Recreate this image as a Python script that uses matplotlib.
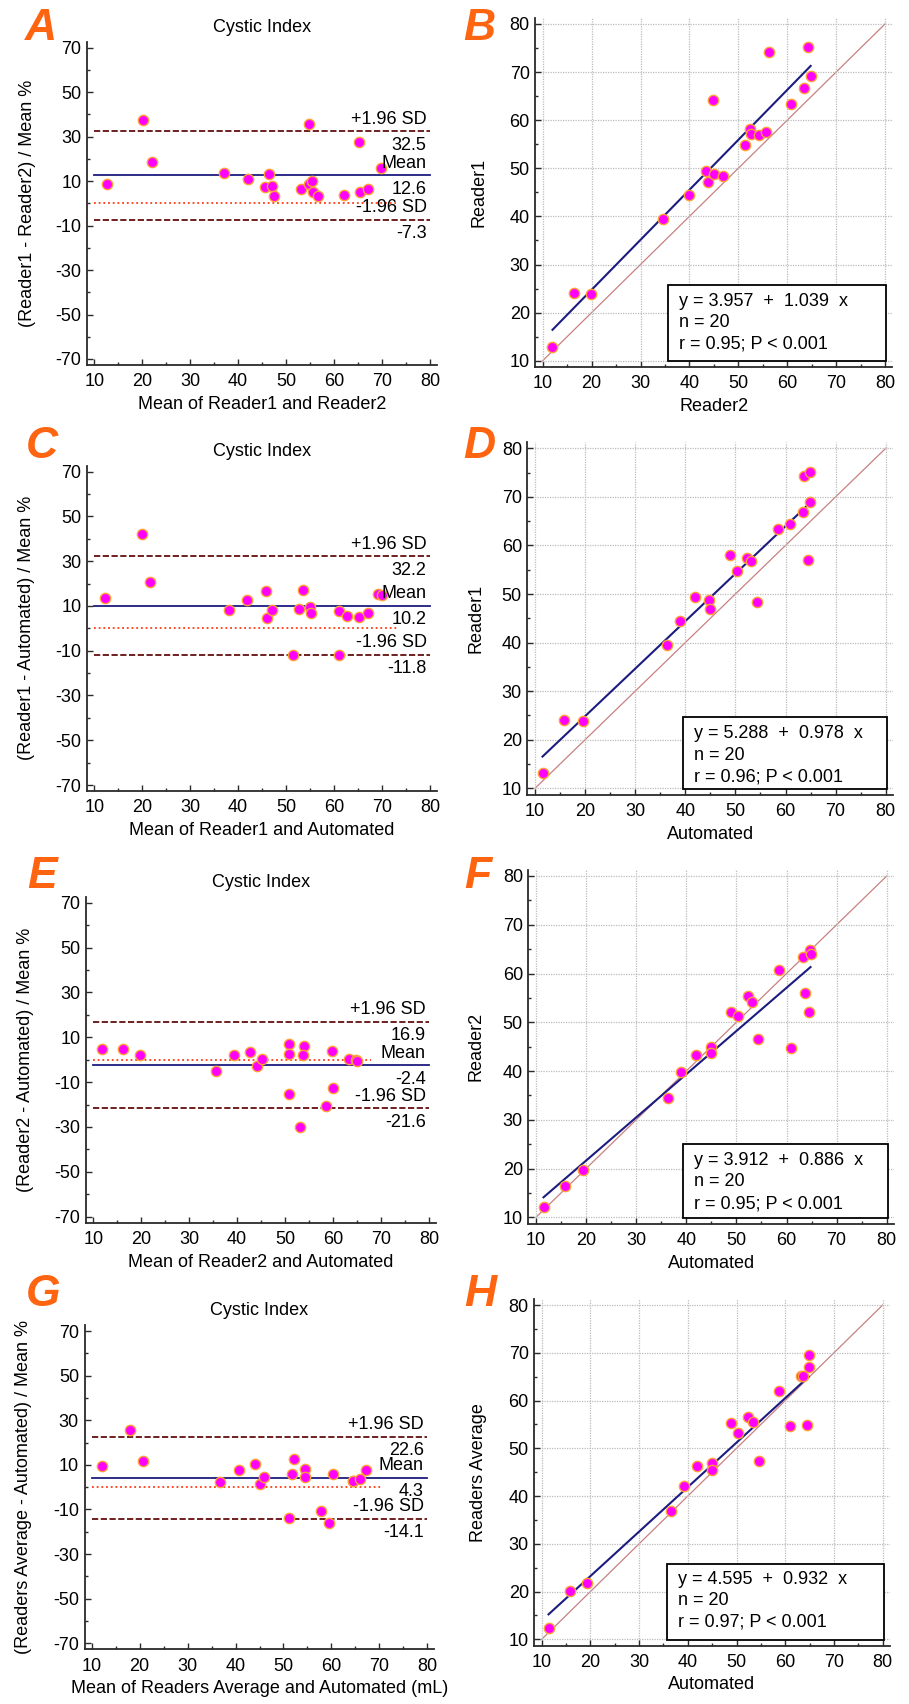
import numpy as np
import matplotlib.pyplot as plt
from matplotlib.ticker import MultipleLocator
from matplotlib.patches import Rectangle

plt.rcParams['font.family'] = 'Liberation Sans'
plt.rcParams['axes.unicode_minus'] = False

# ---- data ----
# Bland-Altman panels (x = mean of the two methods, y = difference / mean %)
A_x = [12.6, 20.2, 22.0, 37.1, 42.1, 45.6, 46.4, 47.0, 47.5, 53.1, 54.7, 54.8, 55.3, 55.7, 56.7, 62.1, 65.2, 65.3, 67.0, 69.8]
A_y = [8.7, 37.5, 18.7, 13.5, 10.8, 7.5, 13.2, 7.9, 3.3, 6.3, 35.5, 8.5, 10.2, 4.9, 3.3, 3.7, 27.7, 4.9, 6.4, 15.7]
C_x = [12.3, 19.9, 21.7, 38.0, 41.8, 45.7, 46.1, 47.0, 51.5, 52.7, 53.6, 54.9, 55.1, 61.0, 61.0, 62.7, 65.1, 67.0, 69.1, 70.0]
C_y = [13.7, 42.1, 20.6, 8.3, 12.8, 16.5, 4.8, 8.3, -11.9, 8.8, 17.3, 9.7, 6.7, 7.6, -11.9, 5.7, 5.2, 6.8, 15.3, 15.0]
E_x = [11.8, 16.1, 19.7, 35.6, 39.4, 42.6, 44.2, 45.1, 50.8, 50.8, 50.9, 53.0, 53.9, 53.8, 58.5, 59.8, 60.0, 63.3, 64.8, 65.0]
E_y = [4.8, 4.9, 2.1, -4.9, 2.1, 3.6, -2.7, 0.3, 7.0, -15.5, 2.5, -30.0, 6.2, 2.1, -20.5, 3.8, -12.5, 0.3, 0.0, -0.6]
G_x = [12.2, 18.0, 20.6, 36.7, 40.7, 44.1, 45.2, 46.0, 51.1, 51.8, 52.1, 54.5, 54.5, 57.9, 59.6, 60.3, 64.4, 64.6, 66.0, 67.3]
G_y = [9.5, 25.6, 11.9, 2.2, 7.8, 10.2, 1.3, 4.7, -13.7, 5.9, 12.6, 8.1, 4.4, -10.8, -16.2, 5.9, 2.9, 2.6, 3.7, 7.5]

# mean, +1.96 SD, -1.96 SD
A_stats = [12.6, 32.5, -7.3]
C_stats = [10.2, 32.2, -11.8]
E_stats = [-2.4, 16.9, -21.6]
G_stats = [4.3, 22.6, -14.1]

# scatter / regression panels
B_x = [12.0, 16.5, 19.9, 34.5, 39.9, 43.4, 43.8, 44.9, 45.1, 46.8, 51.4, 52.3, 52.5, 54.2, 55.6, 56.3, 60.8, 63.5, 64.2, 64.8]
B_y = [12.9, 24.0, 23.9, 39.5, 44.4, 49.4, 47.1, 64.3, 48.8, 48.3, 54.8, 58.1, 57.1, 56.9, 57.5, 74.2, 63.3, 66.7, 75.2, 69.2]
D_x = [11.5, 15.7, 19.5, 36.3, 39.0, 41.9, 44.8, 44.9, 48.9, 50.3, 52.3, 53.2, 54.4, 58.6, 60.9, 63.4, 63.7, 64.4, 64.8, 64.9]
D_y = [13.1, 24.1, 23.9, 39.5, 44.4, 49.3, 48.8, 47.0, 58.0, 54.8, 57.5, 56.8, 48.3, 63.3, 64.4, 66.8, 74.3, 57.0, 69.0, 75.2]
F_x = [11.5, 15.7, 19.4, 36.3, 39.0, 41.9, 44.9, 44.9, 48.9, 50.3, 52.3, 53.2, 54.4, 58.6, 60.9, 63.2, 63.7, 64.4, 64.7, 64.8]
F_y = [12.1, 16.5, 19.7, 34.5, 39.7, 43.3, 45.0, 43.8, 52.2, 51.3, 55.4, 54.1, 46.5, 60.8, 44.8, 63.4, 56.0, 52.2, 64.8, 64.0]
H_x = [11.4, 15.8, 19.3, 36.5, 39.2, 41.9, 44.9, 45.0, 48.8, 50.3, 52.3, 53.3, 54.6, 58.7, 60.9, 63.2, 63.7, 64.5, 64.8, 64.8]
H_y = [12.4, 20.2, 21.7, 36.9, 42.1, 46.3, 46.9, 45.5, 55.2, 53.1, 56.6, 55.6, 47.4, 62.0, 54.6, 65.1, 65.2, 54.8, 67.0, 69.6]

# intercept, slope, n, r
B_fit = [3.957, 1.039, 20, 0.95]
D_fit = [5.288, 0.978, 20, 0.96]
F_fit = [3.912, 0.886, 20, 0.95]
H_fit = [4.595, 0.932, 20, 0.97]

W, H = 909, 1704
fig = plt.figure(figsize=(W / 100, H / 100), dpi=100)

BA_XLIM = (8.5, 81.5)
BA_YLIM = (-72.7, 72.7)
SC_XLIM = (8.5, 81.4)
SC_YLIM = (8.7, 81.2)

MAG = '#ff00ff'
EDGE = '#ffa035'
NAVY = '#1c1c80'
MAROON = '#6e1f1f'
LETTER = '#ff6410'


def place(xp, yp, xt, yt, xlim, ylim):
    # build axes so that tick values xt/yt land on pixel positions xp/yp
    sx = (xp[1] - xp[0]) / (xt[1] - xt[0])
    sy = (yp[1] - yp[0]) / (yt[1] - yt[0])
    left = xp[0] + (xlim[0] - xt[0]) * sx
    right = xp[0] + (xlim[1] - xt[0]) * sx
    top = yp[0] + (ylim[1] - yt[0]) * sy
    bottom = yp[0] + (ylim[0] - yt[0]) * sy
    ax = fig.add_axes([left / W, 1 - bottom / H, (right - left) / W, (bottom - top) / H])
    ax.set_xlim(xlim)
    ax.set_ylim(ylim)
    return ax


def style(ax, ymaj, ymin):
    for s in ['top', 'right']:
        ax.spines[s].set_visible(False)
    for s in ['left', 'bottom']:
        ax.spines[s].set_linewidth(1.3)
        ax.spines[s].set_color('#2a2a2a')
    ax.xaxis.set_major_locator(MultipleLocator(10))
    ax.xaxis.set_minor_locator(MultipleLocator(5))
    ax.yaxis.set_major_locator(ymaj)
    ax.yaxis.set_minor_locator(MultipleLocator(ymin))
    ax.tick_params(which='both', direction='in', labelsize=13, color='#2a2a2a')
    ax.tick_params(which='major', length=4.5, width=1)
    ax.tick_params(which='minor', length=2.5, width=1)
    ax.tick_params(axis='x', pad=6)
    ax.tick_params(axis='y', pad=4)


def bland(ax, x, y, stats, zend, ylab, xlab, ypad):
    mean, up, lo = stats
    ax.plot([10, 80], [up, up], color=MAROON, lw=1.4, dashes=(3.2, 1.3), zorder=2)
    ax.plot([10, 80], [lo, lo], color=MAROON, lw=1.4, dashes=(3.2, 1.3), zorder=2)
    ax.plot([10, 80], [mean, mean], color=NAVY, lw=1.3, zorder=2)
    ax.plot([10, zend], [0, 0], color='#ff3a10', lw=1.3, ls=(0, (1, 1.6)), zorder=2)
    ax.scatter(x, y, s=55, c=MAG, edgecolors=EDGE, linewidths=1.0, zorder=3)
    lab = [('+1.96 SD', up), ('Mean', mean), ('-1.96 SD', lo)]
    for name, v in lab:
        ax.annotate(name, (79.3, v), xytext=(0, 2.5), textcoords='offset points',
                    ha='right', va='bottom', fontsize=13, zorder=4)
        ax.annotate('%.1f' % v, (79.3, v), xytext=(0, -4), textcoords='offset points',
                    ha='right', va='top', fontsize=13, zorder=4)
    style(ax, MultipleLocator(20, offset=10), 10)
    ax.set_title('Cystic Index', fontsize=13, pad=7)
    ax.set_ylabel(ylab, fontsize=13, labelpad=ypad)
    ax.set_xlabel(xlab, fontsize=13, labelpad=4)


def scatter(ax, x, y, fit, box_left, box_top, ylab, xlab, ypad):
    a, b, n, r = fit
    style(ax, MultipleLocator(10), 5)
    ax.grid(True, which='major', color='#bcbcbc', lw=0.9, ls=(0, (1, 1)), zorder=0)
    ax.plot([10, 80], [10, 80], color='#c98080', lw=0.9, zorder=1)
    xs = np.array([min(x), max(x)])
    ax.plot(xs, a + b * xs, color=NAVY, lw=1.5, zorder=2)
    ax.scatter(x, y, s=55, c=MAG, edgecolors=EDGE, linewidths=1.0, zorder=3)
    ax.add_patch(Rectangle((box_left, 9.9), 80.2 - box_left, box_top - 9.9,
                           fc='white', ec='black', lw=1.3, zorder=4))
    lines = ['y = %.3f  +  %.3f  x' % (a, b), 'n = %d' % n, 'r = %.2f; P < 0.001' % r]
    for i, t in enumerate(lines):
        ax.text(box_left + 2.3, box_top - 3.3 - 4.45 * i, t, fontsize=13,
                va='center', ha='left', zorder=5)
    ax.set_ylabel(ylab, fontsize=13, labelpad=ypad)
    ax.set_xlabel(xlab, fontsize=13, labelpad=4)


BA_T = (10, 80)
BA_YT = (70, -70)
SC_YT = (80, 10)

axA = place((94.3, 430), (47.7, 359), BA_T, BA_YT, BA_XLIM, BA_YLIM)
bland(axA, A_x, A_y, A_stats, 73, '(Reader1 - Reader2) / Mean %', 'Mean of Reader1 and Reader2', 14)
axC = place((94.3, 430), (471.7, 785), BA_T, BA_YT, BA_XLIM, BA_YLIM)
bland(axC, C_x, C_y, C_stats, 73.4, '(Reader1 - Automated) / Mean %', 'Mean of Reader1 and Automated', 15)
axE = place((93.3, 429), (902.7, 1216.7), BA_T, BA_YT, BA_XLIM, BA_YLIM)
bland(axE, E_x, E_y, E_stats, 68.0, '(Reader2 - Automated) / Mean %', 'Mean of Reader2 and Automated', 15)
axG = place((91.7, 427.3), (1331, 1643.3), BA_T, BA_YT, BA_XLIM, BA_YLIM)
bland(axG, G_x, G_y, G_stats, 70.3, '(Readers Average - Automated) / Mean %',
      'Mean of Readers Average and Automated (mL)', 15)

axB = place((542.7, 885), (24, 360.7), BA_T, SC_YT, SC_XLIM, SC_YLIM)
scatter(axB, B_x, B_y, B_fit, 35.6, 25.7, 'Reader1', 'Reader2', 16)
axD = place((535, 885.7), (448.3, 788.3), BA_T, SC_YT, SC_XLIM, SC_YLIM)
scatter(axD, D_x, D_y, D_fit, 39.5, 24.6, 'Reader1', 'Automated', 12.5)
axF = place((536, 886.7), (876, 1217.3), BA_T, SC_YT, SC_XLIM, SC_YLIM)
scatter(axF, F_x, F_y, F_fit, 39.3, 25.0, 'Reader2', 'Automated', 13)
axH = place((541.7, 882.7), (1305, 1639.3), BA_T, SC_YT, SC_XLIM, SC_YLIM)
scatter(axH, H_x, H_y, H_fit, 35.7, 25.8, 'Readers Average', 'Automated', 15.5)

letters = [('A', 41, 28), ('B', 479, 28), ('C', 42, 446), ('D', 479, 447),
           ('E', 42, 877), ('F', 478, 877), ('G', 43, 1295), ('H', 480, 1295)]
for t, px, py in letters:
    fig.text(px / W, 1 - py / H, t, fontsize=32, fontweight='bold', fontstyle='italic',
             color=LETTER, ha='center', va='center')

fig.savefig('out.png', dpi=100)
